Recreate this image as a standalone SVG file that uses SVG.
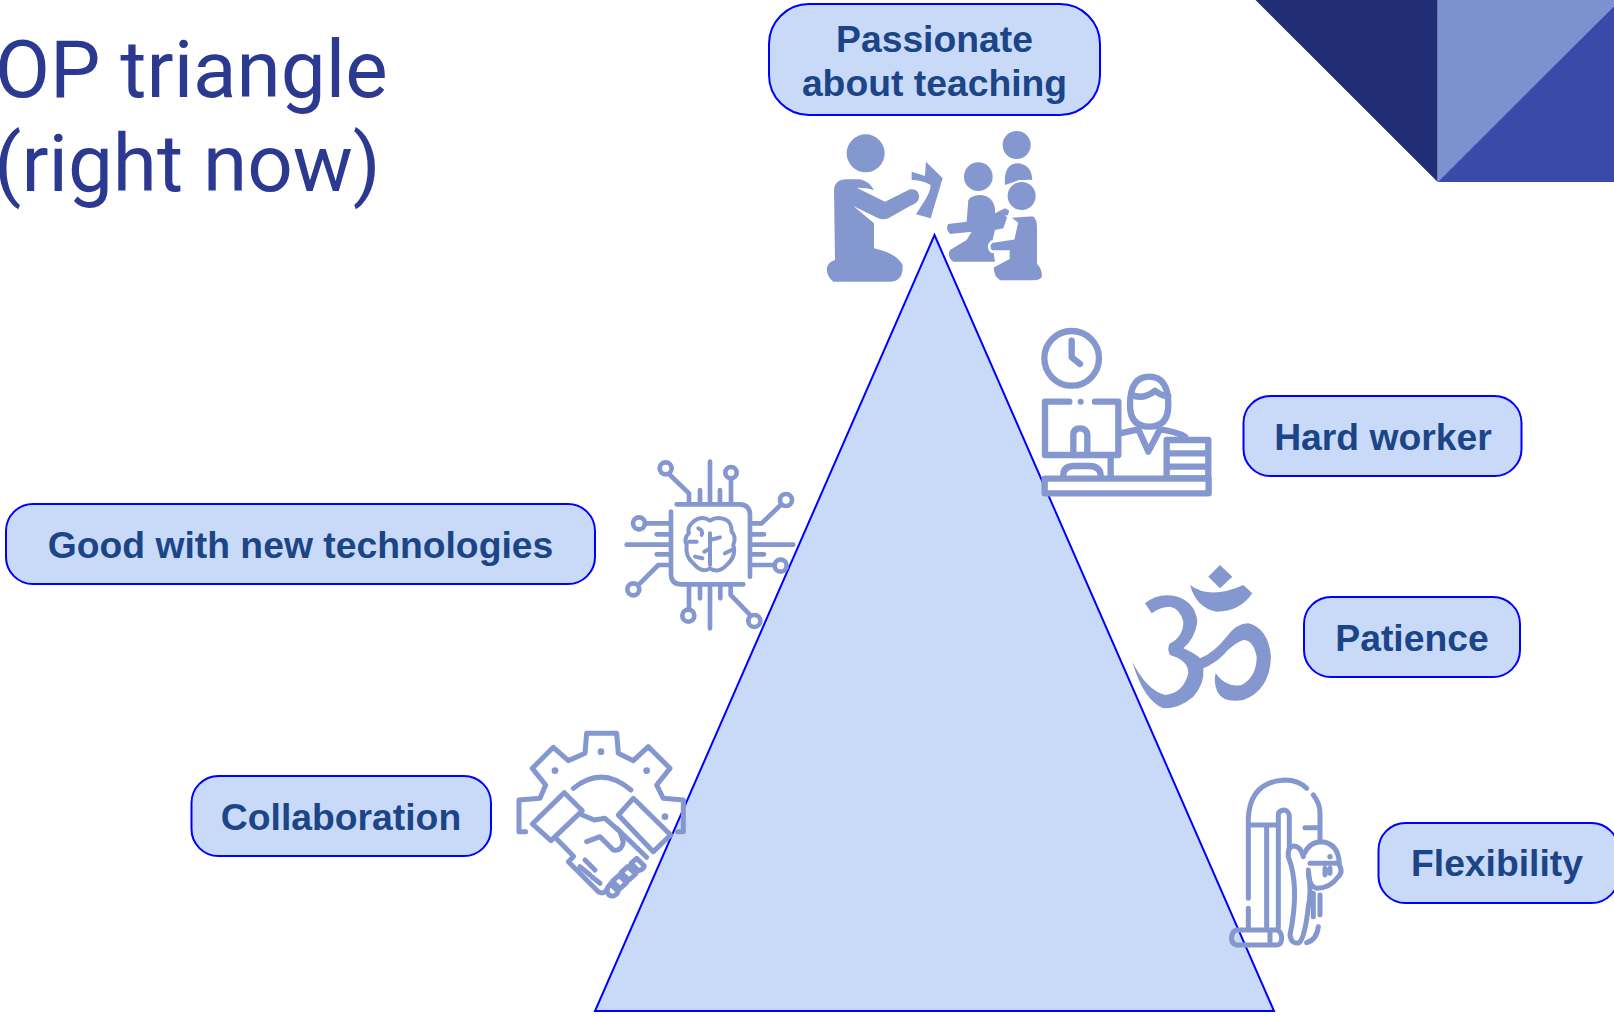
<svg xmlns="http://www.w3.org/2000/svg" width="1614" height="1017" viewBox="0 0 1614 1017">
<style>
.pill{fill:#c9daf8;stroke:#0000ff;stroke-width:2}
.lbl{font-family:"Liberation Sans",Arial,sans-serif;font-weight:700;font-size:37.3px;fill:#1c4587;text-anchor:middle}
.title{font-family:Roboto,"Liberation Sans",sans-serif;font-size:80px;fill:#2b3990}
.f{fill:#8497ce}
.s{fill:none;stroke:#8497ce;stroke-linecap:round;stroke-linejoin:round}
.z{filter:url(#soft)}
</style>
<defs><filter id="soft" x="-5%" y="-5%" width="110%" height="110%"><feGaussianBlur stdDeviation="0.7"/></filter></defs>
<rect width="1614" height="1017" fill="#fff"/>
<g id="corner">
<polygon points="1255.5,0 1437.7,0 1437.7,182" fill="#212d74"/>
<polygon points="1437.7,0 1614,0 1614,6 1437.7,182" fill="#7b92cf"/>
<polygon points="1614,6 1614,182 1437.7,182" fill="#394aab"/>
</g>
<g id="title">
<text class="title" x="0" y="97" dx="-5">OP triangle</text>
<text class="title" x="0" y="191" dx="-6">(right now)</text>
</g>
<g id="triangle"><polygon points="934.5,235 1274,1011 595,1011" fill="#c9daf8" stroke="#0000ff" stroke-width="2"/></g>
<g id="icon-teaching" class="z" transform="translate(800 120) scale(.3333)">
<circle class="f" cx="197" cy="100" r="57"/>
<path class="f" d="M102 210Q104 178 140 178L180 178Q205 182 222 210L200 205L170 203L255 245L330 208Q355 205 358 230Q355 250 330 258L265 295Q250 300 235 295L160 258L222 310L222 385Q290 400 308 435Q310 485 270 485L100 485Q80 470 80 445Q85 425 105 420Z"/>
<path class="f" d="M335 155L375 168L378 125L428 175L392 295L348 283L372 245Q392 215 392 195Q365 180 335 180Z"/>
<circle class="f" cx="650" cy="75" r="42"/>
<path class="f" d="M615 195Q610 130 655 130Q695 135 697 180Q670 175 615 195Z"/>
<circle class="f" cx="535" cy="170" r="43"/>
<path class="f" d="M505 240Q515 225 545 225Q580 230 585 265L585 280L615 265L628 272L610 325L585 330L580 350Q575 365 585 425L460 425Q440 410 450 390L500 360L515 335L450 342Q435 325 445 312L500 305Z"/>
<circle class="f" cx="665" cy="228" r="45" stroke="#fff" stroke-width="6"/>
<path class="f" stroke="#fff" stroke-width="8" d="M625 290L700 285Q715 295 715 320L715 430Q730 445 730 470Q725 485 700 485L600 485Q575 470 578 440L625 415L625 395L575 395Q560 380 575 365L640 355L650 310Z"/>
</g>
<g id="icon-tech" class="z" transform="translate(615 450) scale(.3333)">
<g class="s" stroke-width="14">
<path d="M185 163H375Q405 165 405 195V380M168 185V375Q170 403 200 403H385"/>
<path d="M285 35V160M255 120V160M315 120V160M348 85V160M222 160V130L165 75"/>
<path d="M410 220H440L497 165M410 253H447M410 284H535M410 313H447M410 345H480"/>
<path d="M165 220H90M165 253H125M165 284H35M125 313H165M165 345H130L75 400"/>
<path d="M222 405V480M255 405V445M285 405V535M316 405V445M347 410V435L405 495"/>
<circle cx="152" cy="55" r="18"/><circle cx="348" cy="68" r="17"/><circle cx="513" cy="150" r="18"/><circle cx="497" cy="347" r="18"/>
<circle cx="72" cy="220" r="18"/><circle cx="55" cy="418" r="18"/><circle cx="220" cy="497" r="18"/><circle cx="418" cy="513" r="18"/>
</g>
<g class="s" stroke-width="12">
<path d="M285 212Q260 195 235 215Q215 232 222 250Q205 265 215 285Q210 320 235 340Q260 372 285 355Q310 372 335 345Q365 320 355 285Q365 260 350 245Q350 215 330 208Q305 198 285 212Z"/>
<path d="M285 250V345M285 270L315 262M268 305L285 295M222 275H245M330 310L350 300M250 235Q265 240 260 255M240 320L262 325"/>
</g>
</g>
<g id="icon-collab" class="z" transform="translate(505 720) scale(.3333)">
<g class="s" stroke-width="15">
<path d="M62 335H42V240L105 235L122 195L82 145L145 82L190 122L240 100L245 40H335L340 100L385 122L430 80L495 145L455 195L475 235L535 240V335H518"/>
<path d="M205 205Q290 135 378 210"/>
<path d="M82 312L178 218L232 272L138 362ZM150 352L205 408M232 285L268 300L300 295L345 335L355 365Q350 395 325 390L285 350L245 365"/>
<path d="M340 285L385 235L497 345L445 395ZM335 325L425 412M205 410L190 425L280 515Q295 525 305 510M240 420L270 450M225 440L255 465M260 470L285 490"/>
<path d="M395 415L418 438Q415 450 400 452L378 430ZM368 440L392 462L372 480L348 458ZM342 466L365 488L345 506L322 484ZM316 492L340 514Q330 535 312 525Q298 510 316 492Z"/>
</g>
<circle class="f" cx="150" cy="152" r="10"/><circle class="f" cx="288" cy="95" r="10"/><circle class="f" cx="425" cy="152" r="10"/><circle class="f" cx="480" cy="290" r="10"/>
</g>
<g id="icon-patience" class="z" transform="translate(1120 550) scale(.3333)">
<polygon class="f" points="300,45 337,80 300,115 265,80"/>
<path class="f" d="M210 105Q270 150 370 105L397 130Q360 185 290 185Q230 175 210 105Z"/>
<path class="f" d="M75 160Q110 130 160 137Q225 150 232 215Q225 265 190 295Q225 310 240 325Q280 310 320 260Q350 220 385 220Q445 235 453 320Q450 420 370 450Q310 460 292 425Q280 395 287 370Q320 415 365 405Q410 380 410 320Q400 270 370 270Q340 280 310 315Q285 340 250 355Q255 400 220 440Q180 475 130 475Q70 450 37 335Q80 420 135 435Q190 430 205 370Q205 330 150 315Q140 295 150 280Q190 260 190 215Q180 175 150 170Q120 170 95 190Z"/>
</g>
<g id="icon-flexibility" class="z" transform="translate(1210 760) scale(.3333)">
<g class="s" stroke-width="15">
<path d="M115 415V175Q120 65 225 60Q265 60 290 85M310 105Q330 130 330 160V240M285 203H330M115 195H205M170 200V505M205 505V165Q205 150 225 150Q238 155 238 170V260M115 445V505"/>
<path d="M80 510H200Q215 515 215 535Q215 555 200 555H80Q62 550 65 530Q68 512 80 510ZM180 515V550"/>
<path d="M280 290Q272 258 250 258Q232 262 235 290Q270 380 240 525Q245 555 268 548Q285 530 295 440Q305 400 295 330"/>
<path d="M283 280Q300 245 335 245Q385 250 388 310H300M388 315Q400 335 385 350Q360 385 320 385Q300 380 295 345M345 325V345M360 325V340"/>
<path d="M310 400V470M330 405V465M325 500Q320 540 290 548"/>
</g>
<circle class="f" cx="360" cy="290" r="8"/>
</g>
<g id="icon-hardwork" class="z" transform="translate(1030 320) scale(.3333)">
<g class="s" stroke-width="19">
<circle cx="125" cy="115" r="82"/>
<path d="M125 62V112L150 132"/>
<path d="M118 245H45V405H265V245H195"/>
<path d="M130 405V345Q130 325 150 325Q170 325 172 345V405M100 465Q100 440 130 438H180Q210 440 212 465M242 410V470"/>
<path d="M300 255Q300 170 358 170Q415 170 415 255Q415 320 358 320Q300 320 300 255Z"/>
<path d="M305 225Q340 240 375 212Q395 228 415 228M270 340L325 328L355 395L390 328Q440 335 465 350"/>
</g>
<circle class="f" cx="152" cy="245" r="9"/>
<path d="M410 360H535V475H410Z" fill="none" stroke="#8497ce" stroke-width="19" stroke-linejoin="round"/>
<path d="M410 400H535M410 440H535" fill="none" stroke="#8497ce" stroke-width="19"/>
<rect x="44" y="476" width="492" height="44" fill="#fff" stroke="#8497ce" stroke-width="19" stroke-linejoin="round"/>
</g>
<g id="node-passionate">
<rect class="pill" x="769" y="4" width="331" height="111" rx="40"/>
<text class="lbl" x="934.5" y="52">Passionate</text>
<text class="lbl" x="934.5" y="96">about teaching</text>
</g>
<g id="node-hard-worker">
<rect class="pill" x="1243.5" y="396" width="278" height="80" rx="27"/>
<text class="lbl" x="1383" y="450">Hard worker</text>
</g>
<g id="node-patience">
<rect class="pill" x="1304" y="597" width="216" height="80" rx="27"/>
<text class="lbl" x="1412" y="651">Patience</text>
</g>
<g id="node-flexibility">
<rect class="pill" x="1378.5" y="823" width="240" height="80" rx="27"/>
<text class="lbl" x="1497" y="876">Flexibility</text>
</g>
<g id="node-tech">
<rect class="pill" x="6" y="504" width="589" height="80" rx="27"/>
<text class="lbl" x="300.5" y="558">Good with new technologies</text>
</g>
<g id="node-collab">
<rect class="pill" x="191.500" y="776" width="299.500" height="80" rx="27"/>
<text class="lbl" x="341" y="830">Collaboration</text>
</g>
<g id="connectors"/>
</svg>
